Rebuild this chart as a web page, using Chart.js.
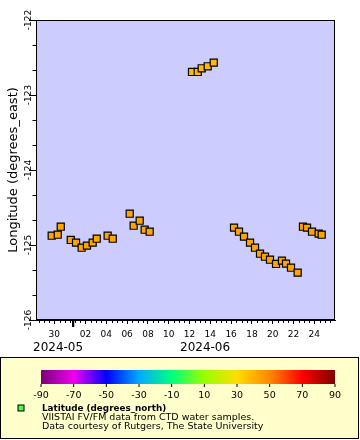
<!DOCTYPE html>
<html>
<head>
<meta charset="utf-8">
<script src="https://cdn.jsdelivr.net/npm/chart.js@4.4.0/dist/chart.umd.min.js"></script>
<style>
  html, body { margin: 0; padding: 0; background: #fff; }
  #wrap { width: 360px; height: 440px; }
</style>
</head>
<body>
<div id="wrap"><canvas id="myChart" width="360" height="440"></canvas></div>
<script>
// sample time in days of June 2024 (0 = May 31, -1 = May 30)
const sampleDays = [-1.25, -0.67, -0.38, 0.58, 1.09, 1.63, 2.14, 2.69, 3.08, 4.13, 4.62,
  6.25, 6.63, 7.21, 7.69, 8.17, 12.24, 12.79, 13.17, 13.75, 14.33,
  16.28, 16.76, 17.24, 17.82, 18.3, 18.78, 19.26, 19.74, 20.32, 20.89, 21.28, 21.76, 22.4,
  22.91, 23.3, 23.78, 24.42, 24.71];
const longitudes = [-124.876, -124.863, -124.756, -124.933, -124.969, -125.036, -125.009, -124.969, -124.916, -124.876, -124.916,
  -124.583, -124.743, -124.676, -124.796, -124.823, -122.693, -122.693, -122.644, -122.617, -122.569,
  -124.769, -124.823, -124.889, -124.969, -125.036, -125.116, -125.156, -125.196, -125.253, -125.209, -125.249, -125.303, -125.369,
  -124.756, -124.769, -124.823, -124.849, -124.863];
const dayTicks = [-1, 2, 4, 6, 8, 10, 12, 14, 16, 18, 20, 22, 24];
const lonTicks = [-126, -125, -124, -123, -122];
const monthLabels = ['2024-05', '2024-06'];
const colorbarTicks = [-90, -70, -50, -30, -10, 10, 30, 50, 70, 90];
const legendTitle = 'Latitude (degrees_north)';
const legendLines = ['VIISTAI FV/FM data from CTD water samples.', 'Data courtesy of Rutgers, The State University'];

const FONT = 'DejaVu Sans';

function dayLabel(v) {
  if (v <= 0) return String(31 + v);
  return String(v).padStart(2, '0');
}

// background, frame, minor ticks, rotated y labels and the legend panel
const erddapFrame = {
  id: 'erddapFrame',
  beforeDraw(chart) {
    const a = chart.chartArea;
    const ctx = chart.ctx;
    ctx.save();
    ctx.fillStyle = '#CCCCFF';
    ctx.fillRect(a.left, a.top, a.right - a.left, a.bottom - a.top);
    ctx.restore();
  },
  afterDraw(chart) {
    const a = chart.chartArea;
    const ctx = chart.ctx;
    const xs = chart.scales.x;
    const ys = chart.scales.y;
    ctx.save();
    ctx.strokeStyle = '#000';
    ctx.lineWidth = 1;
    ctx.strokeRect(a.left + 0.5, a.top + 0.5, a.right - a.left - 1, a.bottom - a.top - 1);

    // y minor ticks every 1/3 degree
    ctx.beginPath();
    for (let k = 1; k < 12; k++) {
      if (k % 3 === 0) continue;
      const py = Math.round(ys.getPixelForValue(-126 + k / 3)) + 0.5;
      ctx.moveTo(a.left - 3.5, py);
      ctx.lineTo(a.left, py);
    }
    // x minor ticks every 12 hours
    for (let v = Math.ceil(xs.min * 2) / 2; v <= xs.max; v += 0.5) {
      if (dayTicks.includes(v)) continue;
      const px = Math.round(xs.getPixelForValue(v)) + 0.5;
      ctx.moveTo(px, a.bottom);
      ctx.lineTo(px, a.bottom + 3);
    }
    ctx.stroke();

    // month boundary mark
    const pm = xs.getPixelForValue(0.8);
    ctx.fillStyle = '#000';
    ctx.fillRect(pm - 1, a.bottom + 1, 2.2, 6);

    // y tick labels, rotated
    ctx.font = '9px "' + FONT + '"';
    ctx.textAlign = 'center';
    ctx.textBaseline = 'alphabetic';
    lonTicks.forEach(function (v) {
      ctx.save();
      ctx.translate(a.left - 5.5, ys.getPixelForValue(v));
      ctx.rotate(-Math.PI / 2);
      ctx.fillText(String(v), 0, 0);
      ctx.restore();
    });

    // y title
    ctx.save();
    ctx.font = '13px "' + FONT + '"';
    ctx.translate(16.5, (a.top + a.bottom) / 2);
    ctx.rotate(-Math.PI / 2);
    ctx.fillText('Longitude (degrees_east)', 0, 0);
    ctx.restore();

    // month labels under the time axis
    ctx.font = '12px "' + FONT + '"';
    ctx.textAlign = 'left';
    ctx.fillText(monthLabels[0], a.left - 3, a.bottom + 30.5);
    ctx.fillText(monthLabels[1], a.left + 144, a.bottom + 30.5);

    // legend panel
    ctx.fillStyle = '#FFFFCC';
    ctx.fillRect(0.5, 357.5, 358, 81);
    ctx.strokeRect(0.5, 357.5, 358, 81);

    const x0 = a.left + 5, x1 = a.right, cy = 370, ch = 14;
    const grad = ctx.createLinearGradient(x0, 0, x1, 0);
    const stops = ['#7A007A', '#F000F0', '#0000FF', '#00AAFF', '#00FF80', '#99FF00', '#FFDD00', '#FF8800', '#FF0000', '#800000'];
    stops.forEach(function (c, i) { grad.addColorStop(i / (stops.length - 1), c); });
    ctx.fillStyle = grad;
    ctx.fillRect(x0, cy, x1 - x0, ch);

    ctx.fillStyle = '#000';
    ctx.font = '9.5px "' + FONT + '"';
    ctx.textAlign = 'center';
    ctx.beginPath();
    colorbarTicks.forEach(function (t) {
      const px = x0 + (t + 90) / 180 * (x1 - x0);
      ctx.moveTo(px, cy + ch);
      ctx.lineTo(px, cy + ch + 3);
      ctx.fillText(String(t), px, cy + ch + 13.5);
    });
    ctx.stroke();

    ctx.fillStyle = '#44FF44';
    ctx.fillRect(18, 405, 6, 6);
    ctx.strokeRect(18, 405, 6, 6);

    ctx.fillStyle = '#000';
    ctx.textAlign = 'left';
    ctx.font = 'bold 8.8px "' + FONT + '"';
    ctx.fillText(legendTitle, 42, 411);
    ctx.font = '9.5px "' + FONT + '"';
    ctx.fillText(legendLines[0], 42, 420);
    ctx.fillText(legendLines[1], 42, 428.7);
    ctx.restore();
  }
};

const points = sampleDays.map(function (d, i) { return { x: d, y: longitudes[i] }; });

const config = {
  type: 'scatter',
  data: {
    datasets: [{
      label: legendTitle,
      data: points,
      pointStyle: 'rect',
      pointRadius: 5,
      pointHoverRadius: 5,
      borderWidth: 1.2,
      borderColor: '#000',
      backgroundColor: function (c) {
        return longitudes[c.dataIndex] > -123.5 ? '#FFBB00' : '#FFA500';
      },
    }],
  },
  options: {
    responsive: false,
    devicePixelRatio: 1,
    animation: false,
    layout: { padding: { top: 20, right: 25, bottom: 84, left: 0 } },
    plugins: { legend: { display: false }, tooltip: { enabled: false } },
    scales: {
      x: {
        type: 'linear',
        min: -2.76,
        max: 25.99,
        afterBuildTicks: function (s) { s.ticks = dayTicks.map(function (v) { return { value: v }; }); },
        afterFit: function (s) { s.height = 36; },
        grid: { drawOnChartArea: false, tickLength: 4, color: '#000' },
        border: { color: '#000' },
        ticks: {
          color: '#000',
          font: { family: FONT, size: 9 },
          padding: 5,
          maxRotation: 0,
          autoSkip: false,
          callback: function (v) { return dayLabel(v); },
        },
      },
      y: {
        type: 'linear',
        min: -126,
        max: -122,
        afterBuildTicks: function (s) { s.ticks = lonTicks.map(function (v) { return { value: v }; }); },
        afterFit: function (s) { s.width = 36; },
        grid: { drawOnChartArea: false, tickLength: 7, color: '#000' },
        border: { color: '#000' },
        ticks: { display: false },
      },
    },
  },
  plugins: [erddapFrame],
};

const myChart = new Chart(document.getElementById('myChart'), config);
</script>
</body>
</html>
